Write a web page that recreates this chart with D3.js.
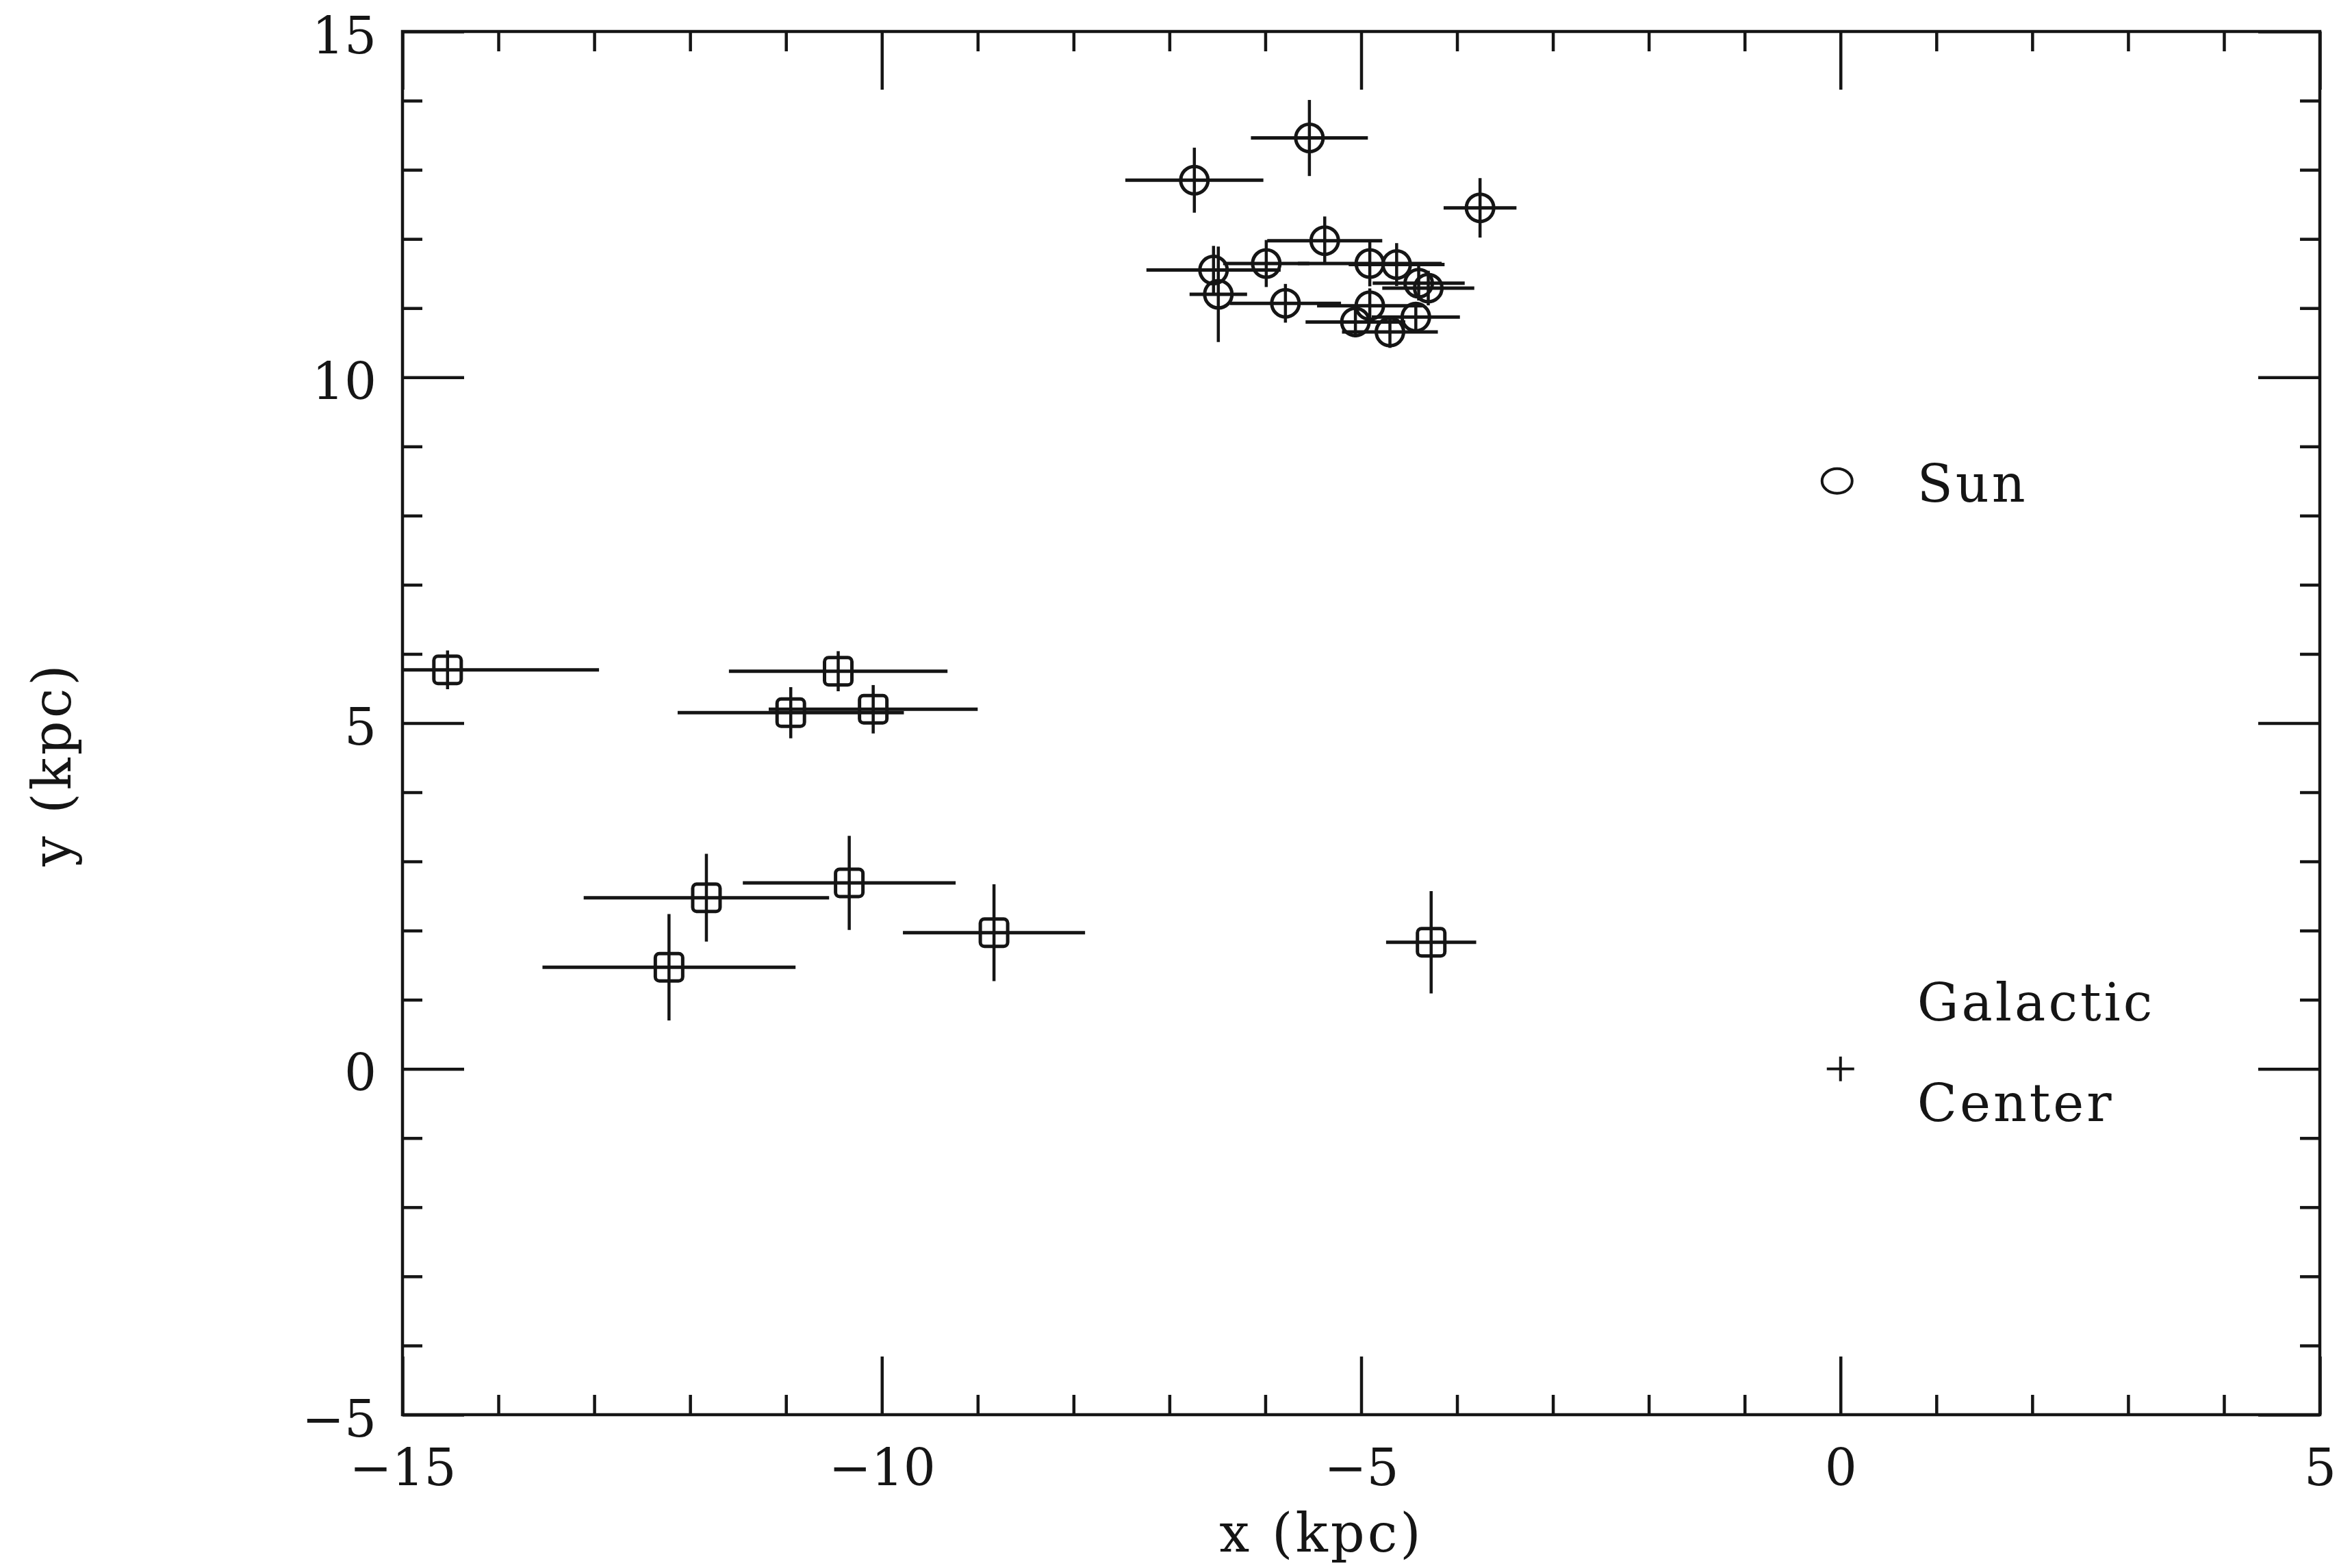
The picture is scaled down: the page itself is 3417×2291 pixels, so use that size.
<!DOCTYPE html>
<html>
<head>
<meta charset="utf-8">
<script src="https://cdn.jsdelivr.net/npm/d3@7"></script>
<style>
  html, body { margin: 0; padding: 0; background: #fff; }
  svg { display: block; }
</style>
</head>
<body>
<div id="chart"></div>
<script>
// Circle objects (x, y in kpc) with their errors
const circleX    = [-6.74, -5.54, -3.76, -5.38, -6.54, -6.49, -5.79, -5.99, -4.91, -4.63, -4.40, -4.30, -4.91, -5.06, -4.70, -4.43];
const circleY    = [12.85, 13.46, 12.45, 11.975, 11.55, 11.20, 11.07, 11.645, 11.645, 11.63, 11.36, 11.29, 11.035, 10.80, 10.655, 10.87];
const circleXErr = [0.72, 0.61, 0.38, 0.60, 0.70, 0.30, 0.58, 0.45, 0.75, 0.50, 0.48, 0.48, 0.55, 0.52, 0.50, 0.46];
const circleYErr = [0.47, 0.55, 0.43, 0.35, 0.35, 0.69, 0.28, 0.34, 0.33, 0.31, 0.25, 0.25, 0.25, 0.22, 0.23, 0.20];

// Square objects
const squareX    = [-14.53, -10.455, -10.95, -10.09, -11.83, -10.34, -12.22, -8.83, -4.27];
const squareY    = [5.77, 5.75, 5.15, 5.20, 2.475, 2.69, 1.47, 1.97, 1.83];
const squareXErr = [1.58, 1.14, 1.18, 1.09, 1.28, 1.11, 1.32, 0.95, 0.47];
const squareYErr = [0.28, 0.29, 0.37, 0.35, 0.635, 0.68, 0.77, 0.70, 0.74];

// Reference positions
const sun = { x: 0, y: 8.5, label: 'Sun' };
const galacticCenter = { x: 0, y: 0, label: ['Galactic', 'Center'] };

// Axis ticks
const xMajor = [-15, -10, -5, 0, 5];
const xMinor = [-14, -13, -12, -11, -9, -8, -7, -6, -4, -3, -2, -1, 1, 2, 3, 4];
const yMajor = [-5, 0, 5, 10, 15];
const yMinor = [-4, -3, -2, -1, 1, 2, 3, 4, 6, 7, 8, 9, 11, 12, 13, 14];

const W = 3417, H = 2291;
const margin = { top: 46, right: 28, bottom: 224, left: 588 };
const width = W - margin.left - margin.right;
const height = H - margin.top - margin.bottom;
const ink = '#151515';

const svg = d3.select('#chart').append('svg')
  .attr('width', W).attr('height', H)
  .style('background', '#fff');

const g = svg.append('g').attr('transform', `translate(${margin.left},${margin.top})`);

const x = d3.scaleLinear().domain([-15, 5]).range([0, width]);
const y = d3.scaleLinear().domain([-5, 15]).range([height, 0]);

// Axes: ticks on all four sides, pointing inward
const tickFont = '"DejaVu Serif", serif';

function styleAxis(sel) {
  sel.select('.domain').remove();
  sel.selectAll('.tick line').attr('stroke', ink).attr('stroke-width', 4.5);
  sel.selectAll('.tick text').attr('fill', ink).style('font-family', tickFont).style('font-size', '74px');
}

g.append('g').attr('transform', `translate(0,${height})`)
  .call(d3.axisBottom(x).tickValues(xMajor).tickSize(-85).tickPadding(50).tickFormat(d3.format('d')))
  .call(styleAxis);
g.append('g').attr('transform', `translate(0,${height})`)
  .call(d3.axisBottom(x).tickValues(xMinor).tickSize(-29).tickFormat(''))
  .call(styleAxis);
g.append('g')
  .call(d3.axisTop(x).tickValues(xMajor).tickSize(-85).tickFormat(''))
  .call(styleAxis);
g.append('g')
  .call(d3.axisTop(x).tickValues(xMinor).tickSize(-29).tickFormat(''))
  .call(styleAxis);

g.append('g')
  .call(d3.axisLeft(y).tickValues(yMajor).tickSize(-90).tickPadding(38).tickFormat(d3.format('d')))
  .call(styleAxis)
  .selectAll('.tick text').attr('dy', '0.42em');
g.append('g')
  .call(d3.axisLeft(y).tickValues(yMinor).tickSize(-29).tickFormat(''))
  .call(styleAxis);
g.append('g').attr('transform', `translate(${width},0)`)
  .call(d3.axisRight(y).tickValues(yMajor).tickSize(-90).tickFormat(''))
  .call(styleAxis);
g.append('g').attr('transform', `translate(${width},0)`)
  .call(d3.axisRight(y).tickValues(yMinor).tickSize(-29).tickFormat(''))
  .call(styleAxis);

// Frame
g.append('rect')
  .attr('width', width).attr('height', height)
  .attr('fill', 'none').attr('stroke', ink).attr('stroke-width', 4.5);

// Axis titles
const textFont = '"DejaVu Serif", serif';
g.append('text')
  .attr('x', x(-5) - 58).attr('y', height + 200)
  .attr('text-anchor', 'middle')
  .style('font-family', textFont).style('font-size', '78px').style('letter-spacing', '4px')
  .attr('fill', ink)
  .text('x (kpc)');
g.append('text')
  .attr('transform', `translate(${103 - margin.left},${y(5) + 60}) rotate(-90)`)
  .attr('text-anchor', 'middle')
  .style('font-family', textFont).style('font-size', '78px').style('letter-spacing', '4px')
  .attr('fill', ink)
  .text('y (kpc)');

// Error bars, clipped to the frame
g.append('clipPath').attr('id', 'plot-clip')
  .append('rect').attr('width', width).attr('height', height);
const plot = g.append('g').attr('clip-path', 'url(#plot-clip)');

const circles = circleX.map((d, i) => ({ x: d, y: circleY[i], ex: circleXErr[i], ey: circleYErr[i] }));
const squares = squareX.map((d, i) => ({ x: d, y: squareY[i], ex: squareXErr[i], ey: squareYErr[i] }));
const all = circles.concat(squares);

plot.selectAll('.xerr').data(all).enter().append('line')
  .attr('class', 'xerr')
  .attr('x1', (d) => x(d.x - d.ex)).attr('x2', (d) => x(d.x + d.ex))
  .attr('y1', (d) => y(d.y)).attr('y2', (d) => y(d.y))
  .attr('stroke', ink).attr('stroke-width', 5);

plot.selectAll('.yerr').data(all).enter().append('line')
  .attr('class', 'yerr')
  .attr('x1', (d) => x(d.x)).attr('x2', (d) => x(d.x))
  .attr('y1', (d) => y(d.y - d.ey)).attr('y2', (d) => y(d.y + d.ey))
  .attr('stroke', ink).attr('stroke-width', 4.5);

plot.selectAll('.dot').data(circles).enter().append('circle')
  .attr('class', 'dot')
  .attr('cx', (d) => x(d.x)).attr('cy', (d) => y(d.y))
  .attr('r', 20)
  .attr('fill', 'none').attr('stroke', ink).attr('stroke-width', 5);

plot.selectAll('.box').data(squares).enter().append('rect')
  .attr('class', 'box')
  .attr('x', (d) => x(d.x) - 20).attr('y', (d) => y(d.y) - 20)
  .attr('width', 40).attr('height', 40).attr('rx', 6)
  .attr('fill', 'none').attr('stroke', ink).attr('stroke-width', 5);

// Sun and Galactic Center
g.append('ellipse')
  .attr('cx', x(sun.x) - 5).attr('cy', y(sun.y))
  .attr('rx', 22).attr('ry', 18)
  .attr('fill', 'none').attr('stroke', ink).attr('stroke-width', 4);
g.append('text')
  .attr('x', x(sun.x) + 112).attr('y', y(sun.y) + 30)
  .style('font-family', textFont).style('font-size', '76px').style('letter-spacing', '4px')
  .attr('fill', ink)
  .text(sun.label);

g.append('line')
  .attr('x1', x(galacticCenter.x) - 20).attr('x2', x(galacticCenter.x) + 20)
  .attr('y1', y(galacticCenter.y)).attr('y2', y(galacticCenter.y))
  .attr('stroke', ink).attr('stroke-width', 4);
g.append('line')
  .attr('x1', x(galacticCenter.x)).attr('x2', x(galacticCenter.x))
  .attr('y1', y(galacticCenter.y) - 18).attr('y2', y(galacticCenter.y) + 18)
  .attr('stroke', ink).attr('stroke-width', 4);
g.append('text')
  .attr('x', x(galacticCenter.x) + 112).attr('y', y(galacticCenter.y) - 71)
  .style('font-family', textFont).style('font-size', '76px').style('letter-spacing', '4px')
  .attr('fill', ink)
  .text(galacticCenter.label[0]);
g.append('text')
  .attr('x', x(galacticCenter.x) + 112).attr('y', y(galacticCenter.y) + 76)
  .style('font-family', textFont).style('font-size', '76px').style('letter-spacing', '4px')
  .attr('fill', ink)
  .text(galacticCenter.label[1]);
</script>
</body>
</html>
